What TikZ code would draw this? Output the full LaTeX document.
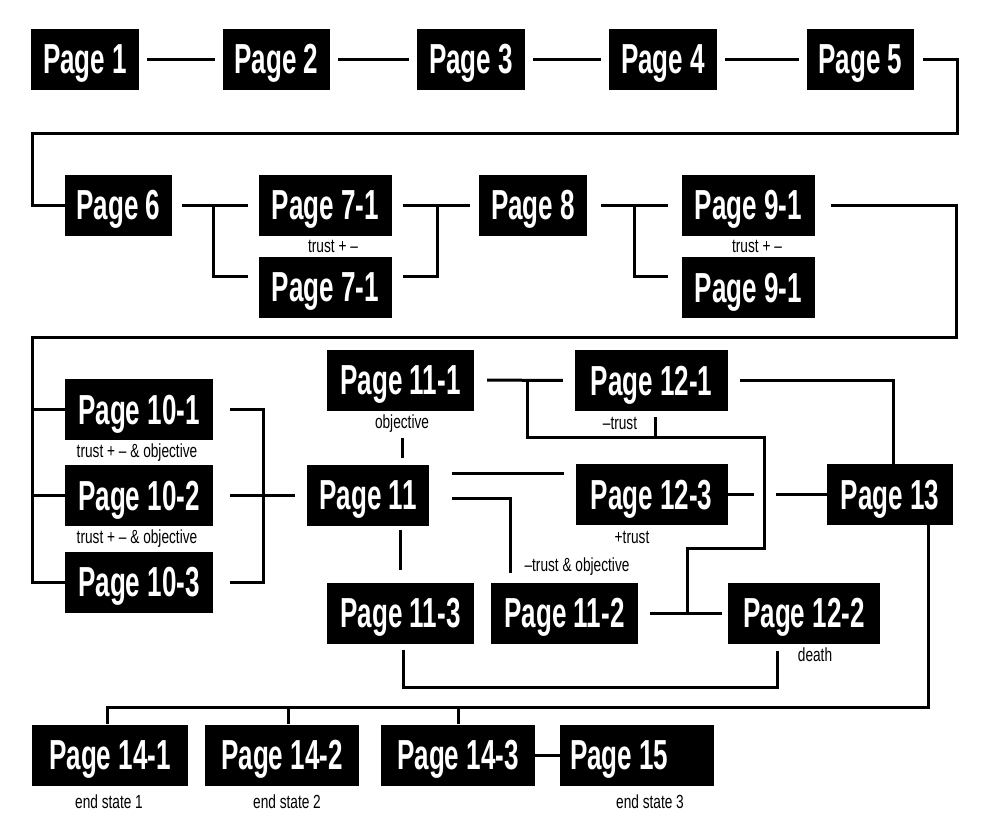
\documentclass[tikz,border=0pt]{standalone}
\usepackage{fontspec}
\newfontfamily\boxfont[FakeStretch=0.62]{Liberation Sans}
\newfontfamily\notefont[FakeStretch=0.72]{Liberation Sans}
\begin{document}
\begin{tikzpicture}[x=1pt, y=-1pt,
  page/.style={fill=black, text=white, inner sep=0pt, minimum height=61pt, text depth=0pt,
    font=\boxfont\bfseries\fontsize{42}{42}\selectfont},
  note/.style={inner sep=0pt, font=\notefont\fontsize{19}{19}\selectfont},
  link/.style={line width=3pt}]

  \useasboundingbox (0,0) rectangle (1000,833);

  % first row
  \node[page, minimum width=108pt] (p1) at (85,59) {Page 1};
  \node[page, minimum width=107pt] (p2) at (276.5,59) {Page 2};
  \node[page, minimum width=108pt] (p3) at (471,59) {Page 3};
  \node[page, minimum width=108pt] (p4) at (663,59) {Page 4};
  \node[page, minimum width=107pt] (p5) at (860.5,59) {Page 5};

  \draw[link, shorten <=8pt, shorten >=8pt] (p1) -- (p2);
  \draw[link, shorten <=8pt, shorten >=8pt] (p2) -- (p3);
  \draw[link, shorten <=8pt, shorten >=8pt] (p3) -- (p4);
  \draw[link, shorten <=8pt, shorten >=8pt] (p4) -- (p5);

  % second row
  \node[page, minimum width=107pt] (p6) at (118.5,205) {Page 6};
  \node[page, minimum width=133pt] (p7a) at (325.5,205) {Page 7-1};
  \node[page, minimum width=133pt] (p7b) at (325.5,287.5) {Page 7-1};
  \node[page, minimum width=108pt] (p8) at (533,205) {Page 8};
  \node[page, minimum width=133pt] (p9a) at (748.5,205) {Page 9-1};
  \node[page, minimum width=133pt] (p9b) at (748.5,287.5) {Page 9-1};
  \node[note] (n7) at (333,246) {trust + –};
  \node[note] (n9) at (757,246) {trust + –};

  \draw[link, shorten <=9pt] (p5.east) -- (957,59) -- (957,133) -- (32,133) |- (p6.west);
  \draw[link, shorten <=10pt, shorten >=11pt] (p6) -- (p7a);
  \draw[link, shorten >=11pt] (213,205) |- ([yshift=11pt]p7b.west);
  \draw[link, shorten <=11pt, shorten >=9pt] (p7a) -- (p8);
  \draw[link, shorten <=11pt] ([yshift=11pt]p7b.east) -| (437,205);
  \draw[link, shorten <=14pt, shorten >=14pt] (p8) -- (p9a);
  \draw[link, shorten >=14pt] (634,205) |- ([yshift=11pt]p9b.west);

  % third row
  \node[page, minimum width=148pt] (p10a) at (139,409.5) {Page 10-1};
  \node[page, minimum width=148pt] (p10b) at (139,495.5) {Page 10-2};
  \node[page, minimum width=148pt] (p10c) at (139,582) {Page 10-3};
  \node[note] (n10a) at (137,453) {trust + – \& objective};
  \node[note] (n10b) at (137,539) {trust + – \& objective};

  \coordinate (bus) at (32,337);
  \draw[link, shorten <=16pt] (p9a.east) -- (956,205) -- (956,337) -- (bus) |- (p10c.west);
  \draw[link] (bus |- p10a.west) -- (p10a.west);
  \draw[link] (bus |- p10b.west) -- (p10b.west);

  \node[page, minimum width=122pt] (p11) at (368,495.5) {Page 11};
  \node[page, minimum width=147pt] (p111) at (400.5,380) {Page 11-1};
  \node[page, minimum width=147pt] (p113) at (400.5,613) {Page 11-3};
  \node[page, minimum width=147pt] (p112) at (564.5,613) {Page 11-2};
  \node[note] (n111) at (402,424) {objective};
  \node[note] (n112) at (577,567) {–trust \& objective};

  \coordinate (m10) at (263,495.5);
  \draw[link] ([xshift=17pt]p10a.east) -| (m10) |- ([xshift=17pt]p10c.east);
  \draw[link, shorten <=17pt, shorten >=12pt] (p10b) -- (p11);
  \draw[link, shorten <=5pt, shorten >=7pt] (n111) -- (n111 |- p11.north);
  \draw[link, shorten <=4pt, shorten >=12pt] (p113.north |- p11.south) -- (p113.north);

  \node[page, minimum width=153pt] (p121) at (651.5,380.5) {Page 12-1};
  \node[page, minimum width=152pt] (p123) at (651.5,494.5) {Page 12-3};
  \node[page, minimum width=152pt] (p122) at (804,613) {Page 12-2};
  \node[page, minimum width=126pt] (p13) at (890,494.5) {Page 13};
  \node[note] (n121) at (620,423) {–trust};
  \node[note] (n123) at (632,537) {+trust};
  \node[note] (n122) at (815,655) {death};

  \draw[link, shorten <=23pt, shorten >=11pt] ([yshift=22pt]p11.east) -- ([yshift=22pt]p11.east -| p123.west);
  \draw[link, shorten <=23pt, shorten >=9pt] ([yshift=-3pt]p11.east) -| ([xshift=-54.5pt]p112.north);
  \draw[link, shorten <=13pt, shorten >=12pt] (p111) -- (p121);

  \coordinate (t1) at (527,380);
  \coordinate (t2) at (687,613);
  \draw[link] (t1) |- (764,437) |- (687,548) -- (t2);
  \draw[link, shorten <=6pt] ([xshift=3.5pt]p121.south) -- (655,437);
  \draw[link, shorten <=12pt, shorten >=6pt] (p112) -- (p122);

  \coordinate (cross) at (764,494.5);
  \draw[link] (p123.east) -- ([xshift=-10pt]cross);
  \draw[link] ([xshift=12pt]cross) -- (p13.west);
  \draw[link, shorten <=12pt] (p121.east) -| ([xshift=3pt]p13.north);
  \draw[link, shorten <=6pt, shorten >=7pt] ([xshift=2.5pt]p113.south) |- (777,687) -- ([xshift=-27pt]p122.south);

  % last row
  \node[page, minimum width=156pt] (p141) at (110,755) {Page 14-1};
  \node[page, minimum width=154pt] (p142) at (282,755) {Page 14-2};
  \node[page, minimum width=154pt] (p143) at (458,755) {Page 14-3};
  \node[page, minimum width=154pt] (p15) at (637,755) {\makebox[134pt][l]{Page 15}};
  \node[note] (n141) at (109,802) {end state 1};
  \node[note] (n142) at (287,802) {end state 2};
  \node[note] (n15) at (650,802) {end state 3};

  \draw[link] ([xshift=38pt]p13.south) |- ([xshift=-3pt,yshift=17pt]p141.north) -- ([xshift=-3pt]p141.north);
  \draw[link] ([xshift=6pt]p142.north) -- ++(0,-17);
  \draw[link] (p143.north) -- ++(0,-17);
  \draw[link] (p143) -- (p15);

\end{tikzpicture}
\end{document}
